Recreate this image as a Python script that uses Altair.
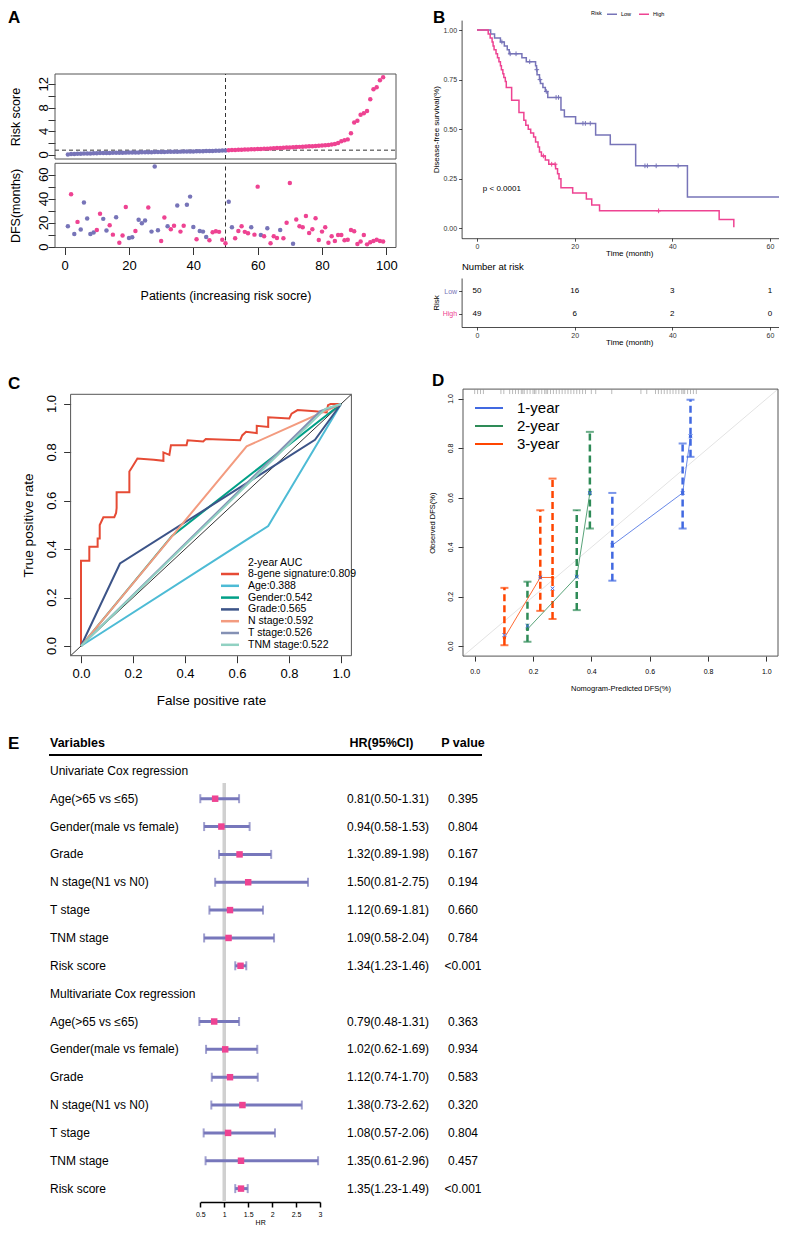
import altair as alt
import pandas as pd

W, H = 771, 1218
FONT = "Liberation Sans"
PURPLE = "#7774B8"
PINK = "#EE4392"
FRAME = "#555555"

# ---------------- Panel A data ----------------
patients = list(range(1, 100))
risk_score = [0.10, 0.15, 0.18, 0.20, 0.22, 0.24, 0.26, 0.27, 0.29, 0.30,
              0.32, 0.33, 0.34, 0.35, 0.36, 0.37, 0.38, 0.39, 0.40, 0.41,
              0.42, 0.43, 0.44, 0.45, 0.46, 0.47, 0.48, 0.49, 0.50, 0.51,
              0.52, 0.53, 0.54, 0.55, 0.56, 0.57, 0.58, 0.59, 0.60, 0.61,
              0.62, 0.63, 0.64, 0.66, 0.67, 0.69, 0.71, 0.73, 0.75, 0.78,
              0.82, 0.84, 0.86, 0.88, 0.90, 0.92, 0.94, 0.96, 0.98, 1.00,
              1.02, 1.05, 1.08, 1.11, 1.14, 1.17, 1.20, 1.23, 1.26, 1.29,
              1.32, 1.35, 1.38, 1.41, 1.44, 1.47, 1.50, 1.53, 1.57, 1.61,
              1.66, 1.71, 1.77, 1.85, 2.05, 2.35, 2.50, 2.65, 3.68, 5.50,
              5.80, 6.85, 7.07, 7.47, 9.45, 11.15, 11.50, 12.70, 13.20]
dfs_months = [17.3, 43.8, 10.9, 20.9, 14.5, 37.1, 23.7, 10.9, 12.0, 14.2,
              27.6, 23.4, 13.7, 18.1, 10.3, 24.8, 3.6, 9.5, 33.2, 7.5,
              8.1, 13.4, 22.6, 19.8, 22.0, 32.9, 12.8, 67.0, 14.0, 5.0,
              24.6, 17.3, 14.8, 17.6, 34.6, 12.8, 17.6, 35.2, 41.9, 16.7,
              6.4, 13.4, 12.8, 8.4, 5.6, 12.3, 13.1, 12.6, 6.1, 3.1,
              37.7, 16.5, 7.3, 13.4, 17.3, 12.6, 11.4, 16.5, 10.3, 50.2,
              10.0, 8.9, 15.6, 3.1, 8.9, 7.5, 14.2, 7.3, 20.1, 53.3,
              2.8, 22.9, 17.3, 16.5, 25.7, 11.7, 14.8, 24.0, 5.9, 12.8,
              16.5, 3.6, 8.9, 5.0, 10.0, 10.0, 5.6, 6.1, 14.2, 13.1,
              2.5, 4.5, 10.0, 2.2, 3.9, 5.0, 6.1, 5.0, 4.5]
dfs_event = [0, 1, 0, 1, 0, 0, 0, 0, 0, 1,
             1, 0, 0, 1, 1, 0, 1, 1, 1, 0,
             0, 1, 0, 0, 0, 1, 0, 0, 0, 1,
             1, 0, 1, 1, 0, 1, 1, 0, 0, 0,
             1, 0, 0, 0, 1, 1, 1, 1, 1, 1,
             0, 0, 1, 1, 1, 1, 1, 0, 1, 1,
             0, 1, 0, 1, 1, 1, 0, 1, 1, 1,
             0, 1, 1, 1, 1, 1, 1, 1, 1, 1,
             1, 1, 1, 1, 1, 1, 1, 1, 1, 1,
             1, 1, 1, 1, 1, 1, 1, 1, 1]
risk_cutoff = 0.82
n_low_risk = 50
a_x_ticks = [0, 20, 40, 60, 80, 100]
a_top_ticks = [0, 2, 4, 6, 8, 10, 12]
a_top_labels = [0, 4, 8, 12]
a_bot_ticks = [0, 10, 20, 30, 40, 50, 60]
a_bot_labels = [0, 20, 40, 60]

# ---------------- Panel B data ----------------
km_low_time = [0, 2.8, 3.6, 4.8, 5.6, 6.2, 6.6, 9.2, 10.1, 12.0, 12.2, 12.3, 12.8, 13.0,
               13.5, 14.0, 14.5, 17.2, 17.9, 20.2, 24.3, 27.3, 32.5, 43.1, 66.0]
km_low_surv = [1.0, 0.98, 0.96, 0.94, 0.92, 0.90, 0.88, 0.86, 0.84, 0.82, 0.80, 0.775, 0.75, 0.73,
               0.71, 0.69, 0.66, 0.596, 0.562, 0.529, 0.47, 0.4225, 0.315, 0.158, 0.158]
km_high_time = [0, 2.3, 2.7, 3.1, 3.3, 3.5, 3.9, 4.2, 4.5, 4.8, 5.0, 5.3, 5.5, 5.8, 6.0,
                7.1, 8.6, 9.6, 10.0, 10.5, 11.0, 11.6, 12.0, 12.5, 12.8, 13.2, 14.0, 14.7,
                16.1, 16.5, 16.8, 17.2, 19.6, 22.4, 23.5, 25.1, 49.6, 52.6]
km_high_surv = [1.0, 0.98, 0.96, 0.94, 0.92, 0.90, 0.88, 0.86, 0.84, 0.82, 0.80, 0.78, 0.76, 0.74, 0.71,
                0.646, 0.584, 0.545, 0.52, 0.50, 0.48, 0.46, 0.435, 0.41, 0.385, 0.365, 0.345, 0.323,
                0.30, 0.275, 0.25, 0.205, 0.178, 0.148, 0.118, 0.088, 0.044, 0.005]
cens_low_time = [5.1, 6.8, 8.0, 10.8, 12.25, 12.9, 14.2, 16.2, 16.7, 21.7, 22.2, 23.2, 34.4, 34.9, 36.7, 41.2]
cens_high_time = [13.6, 15.3, 16.0, 37.2]
risk_table_time = [0, 20, 40, 60]
at_risk_low = [50, 16, 3, 1]
at_risk_high = [49, 6, 2, 0]
pval_text = "p < 0.0001"
pval_at = (1.2, 0.2)

# ---------------- Panel C data ----------------
roc_names = ["8-gene signature", "Age", "Gender", "Grade", "N stage", "T stage", "TNM stage"]
roc_auc = ["0.809", "0.388", "0.542", "0.565", "0.592", "0.526", "0.522"]
roc_colors = ["#E64B35", "#4DBBD5", "#00A087", "#3C5488", "#F39B7F", "#8491B4", "#91D1C2"]
sig_fpr = [0, 0, 0.032, 0.032, 0.064, 0.064, 0.072, 0.072, 0.086, 0.128, 0.135, 0.137, 0.137, 0.186,
           0.186, 0.200, 0.217, 0.28, 0.317, 0.317, 0.34, 0.346, 0.406, 0.41, 0.47, 0.48, 0.612, 0.62,
           0.635, 0.676, 0.676, 0.72, 0.72, 0.801, 0.81, 0.833, 0.90, 0.945, 0.95, 0.96, 1.0]
sig_tpr = [0, 0.352, 0.352, 0.41, 0.41, 0.444, 0.444, 0.50, 0.532, 0.532, 0.55, 0.57, 0.635, 0.635,
           0.721, 0.745, 0.775, 0.77, 0.765, 0.80, 0.79, 0.83, 0.83, 0.85, 0.845, 0.855, 0.85, 0.87,
           0.885, 0.88, 0.91, 0.905, 0.945, 0.94, 0.96, 0.975, 0.97, 0.965, 0.995, 1.0, 1.0]
age_fpr, age_tpr = [0, 0.72, 1], [0, 0.496, 1]
gender_fpr, gender_tpr = [0, 0.35, 1], [0, 0.455, 1]
grade_fpr, grade_tpr = [0, 0.15, 0.90, 1], [0, 0.341, 0.852, 1]
nstage_fpr, nstage_tpr = [0, 0.637, 1], [0, 0.825, 1]
tstage_fpr, tstage_tpr = [0, 0.92, 1], [0, 0.97, 1]
tnm_fpr, tnm_tpr = [0, 0.94, 1], [0, 0.98, 1]
unit_ticks = [0, 0.2, 0.4, 0.6, 0.8, 1.0]

# ---------------- Panel D data ----------------
cal_years = ["1-year", "2-year", "3-year"]
cal_colors = ["#4169E1", "#2E8B57", "#FF4500"]
cal_year = ["1-year"] * 3 + ["2-year"] * 3 + ["3-year"] * 3
cal_pred = [0.472, 0.713, 0.740, 0.181, 0.350, 0.395, 0.102, 0.225, 0.267]
cal_obs = [0.409, 0.620, 0.849, 0.069, 0.281, 0.620, 0.034, 0.278, 0.278]
cal_lower = [0.265, 0.476, 0.766, 0.018, 0.146, 0.476, 0.004, 0.143, 0.110]
cal_upper = [0.620, 0.820, 0.997, 0.261, 0.550, 0.867, 0.236, 0.550, 0.678]
cal_xmark = [0.409, 0.620, 0.849, 0.082, 0.281, 0.620, 0.045, 0.278, 0.234]
rug_pred = [0.0, 0.01, 0.02, 0.03, 0.09, 0.10, 0.12, 0.13, 0.14, 0.15, 0.16, 0.165, 0.17, 0.18,
            0.19, 0.20, 0.205, 0.21, 0.22, 0.23, 0.24, 0.245, 0.25, 0.26, 0.27, 0.28, 0.29, 0.30,
            0.31, 0.32, 0.33, 0.34, 0.35, 0.36, 0.37, 0.38, 0.40, 0.415, 0.47, 0.57, 0.59, 0.62,
            0.63, 0.64, 0.65, 0.66, 0.67, 0.68, 0.69, 0.70, 0.71, 0.715, 0.72, 0.73, 0.74, 0.75, 0.76]

# ---------------- Panel E data ----------------
e_row_labels = ["Univariate Cox regression", "Age(>65 vs \u226465)", "Gender(male vs female)", "Grade",
                "N stage(N1 vs N0)", "T stage", "TNM stage", "Risk score",
                "Multivariate Cox regression", "Age(>65 vs \u226465)", "Gender(male vs female)", "Grade",
                "N stage(N1 vs N0)", "T stage", "TNM stage", "Risk score"]
e_var_rows = [2, 3, 4, 5, 6, 7, 8, 10, 11, 12, 13, 14, 15, 16]
hr_est = [0.81, 0.94, 1.32, 1.50, 1.12, 1.09, 1.34, 0.79, 1.02, 1.12, 1.38, 1.08, 1.35, 1.35]
hr_low = [0.50, 0.58, 0.89, 0.81, 0.69, 0.58, 1.23, 0.48, 0.62, 0.74, 0.73, 0.57, 0.61, 1.23]
hr_high = [1.31, 1.53, 1.98, 2.75, 1.81, 2.04, 1.46, 1.31, 1.69, 1.70, 2.62, 2.06, 2.96, 1.49]
p_values = ["0.395", "0.804", "0.167", "0.194", "0.660", "0.784", "<0.001",
            "0.363", "0.934", "0.583", "0.320", "0.804", "0.457", "<0.001"]
hr_ticks = [0.5, 1, 1.5, 2, 2.5, 3]


# ================= helpers =================
def sc(dom, rng, **kw):
    return alt.Scale(domain=dom, range=rng, nice=False, zero=False, **kw)


def r_xaxis(ypx, values, lsize, title, tsize, fmt=None, tick=7, lpad=4, tpad=10):
    kw = dict(orient="bottom", offset=ypx - H, values=values, domain=False, ticks=True,
              tickSize=tick, tickColor="#333", tickWidth=1, labelFontSize=lsize, labelColor="black",
              labelPadding=lpad, labelFont=FONT, labelFlush=False, labelOverlap=False,
              labelBound=False, grid=False, title=title, titleFontSize=tsize,
              titleFontWeight="normal", titleFont=FONT, titleColor="black", titlePadding=tpad)
    if fmt:
        kw["format"] = fmt
    return alt.Axis(**kw)


def r_yaxis(xpx, values, title, tsize, tick=7, tpad=10):
    # labels are drawn separately (rotated, R style)
    return alt.Axis(orient="left", offset=-xpx, values=values, domain=False, ticks=True,
                    tickSize=tick, tickColor="#333", tickWidth=1, labels=False, grid=False,
                    title=title, titleFontSize=tsize, titleFontWeight="normal", titleFont=FONT,
                    titleColor="black", titlePadding=tpad)


def frame(xdom, ydom, X, Y):
    d = pd.DataFrame({"x0": [xdom[0]], "x1": [xdom[1]], "y0": [ydom[0]], "y1": [ydom[1]]})
    return alt.Chart(d).mark_rect(fillOpacity=0, stroke=FRAME, strokeWidth=1).encode(
        x=X("x0"), x2="x1", y=Y("y0"), y2="y1")


def rot_labels(values, fmt, xpx, Y, size):
    d = pd.DataFrame({"v": values, "lab": [fmt(v) for v in values]})
    return alt.Chart(d).mark_text(angle=270, align="center", baseline="alphabetic", fontSize=size,
                                  font=FONT, color="black").encode(
        x=alt.value(xpx), y=Y("v"), text="lab:N")


def label(txt, x, y, size=17, weight="bold", font=FONT, align="left", baseline="top", color="black"):
    return alt.Chart(pd.DataFrame({"t": [txt]})).mark_text(
        align=align, baseline=baseline, fontSize=size, fontWeight=weight, font=font, color=color
    ).encode(x=alt.value(x), y=alt.value(y), text="t:N")


def enc_x(scale, axis):
    return lambda f: alt.X(f + ":Q", scale=scale, axis=axis)


def enc_y(scale, axis):
    return lambda f: alt.Y(f + ":Q", scale=scale, axis=axis)


# ================= Panel A =================
XA, YA1, YA2 = [-3, 103], [-0.68, 13.75], [-0.4, 69.6]
XAt = enc_x(sc(XA, [47, 388]), None)
YAt = enc_y(sc(YA1, [151, 66]), r_yaxis(47, a_top_ticks, "Risk score", 12.5, tpad=25))
XAb = enc_x(sc(XA, [47, 388]),
            r_xaxis(239.5, a_x_ticks, 13, "Patients (increasing risk socre)", 12.5, lpad=5, tpad=17))
YAb = enc_y(sc(YA2, [239.5, 155.3]), r_yaxis(47, a_bot_ticks, "DFS(months)", 12.5, tpad=25))

dfA = pd.DataFrame({
    "patient": patients, "risk": risk_score, "dfs": dfs_months,
    "group": ["low" if p <= n_low_risk else "high" for p in patients],
    "status": ["event" if e == 1 else "censored" for e in dfs_event],
})

a_top = alt.layer(
    frame(XA, YA1, XAt, YAt),
    alt.Chart(pd.DataFrame({"x0": [XA[0]], "x1": [XA[1]], "y": [risk_cutoff]})).mark_rule(
        strokeDash=[4, 3], color="#333", strokeWidth=1).encode(x=XAt("x0"), x2="x1", y=YAt("y")),
    alt.Chart(pd.DataFrame({"x": [n_low_risk], "y0": [YA1[0]], "y1": [YA1[1]]})).mark_rule(
        strokeDash=[4, 3], color="#333", strokeWidth=1).encode(x=XAt("x"), y=YAt("y0"), y2="y1"),
    alt.Chart(dfA).mark_circle(size=20, opacity=1).encode(
        x=XAt("patient"), y=YAt("risk"),
        color=alt.Color("group:N", scale=alt.Scale(domain=["low", "high"], range=[PURPLE, PINK]), legend=None)),
    rot_labels(a_top_labels, str, 39.5, YAt, 13),
)

a_bot = alt.layer(
    frame(XA, YA2, XAb, YAb),
    alt.Chart(pd.DataFrame({"x": [n_low_risk], "y0": [YA2[0]], "y1": [YA2[1]]})).mark_rule(
        strokeDash=[4, 3], color="#333", strokeWidth=1).encode(x=XAb("x"), y=YAb("y0"), y2="y1"),
    alt.Chart(dfA).mark_circle(size=20, opacity=1).encode(
        x=XAb("patient"), y=YAb("dfs"),
        color=alt.Color("status:N", scale=alt.Scale(domain=["censored", "event"], range=[PURPLE, PINK]),
                        legend=None)),
    rot_labels(a_bot_labels, str, 39.5, YAb, 13),
)

# ================= Panel B =================
XB, YB = [-3.15, 65.5], [-0.05, 1.05]
colB = alt.Scale(domain=["Low", "High"], range=[PURPLE, PINK])


def b_axis_x(ypx):
    return alt.Axis(orient="bottom", offset=ypx - H, values=risk_table_time, domain=True,
                    domainColor="black", domainWidth=0.7, tickColor="black", tickSize=3, tickWidth=0.7,
                    labelFontSize=7, labelColor="#333", labelPadding=1, labelFlush=False,
                    labelOverlap=False, grid=False, title="Time (month)", titleFontSize=8,
                    titleFontWeight="normal", titlePadding=0, titleColor="black", labelFont=FONT,
                    titleFont=FONT)


b_yaxis = alt.Axis(orient="left", offset=-453.6, values=[0, 0.25, 0.5, 0.75, 1.0], format=".2f",
                   domain=True, domainColor="black", domainWidth=0.7, tickColor="black", tickSize=3,
                   tickWidth=0.7, labelFontSize=7, labelColor="#333", labelPadding=2, labelFlush=False,
                   labelOverlap=False, grid=False, title="Disease-free survival(%)", titleFontSize=8,
                   titleFontWeight="normal", titlePadding=2, titleColor="black", labelFont=FONT,
                   titleFont=FONT)
XBk = enc_x(sc(XB, [453.6, 788.8]), b_axis_x(230.2))
YBk = enc_y(sc(YB, [230.2, 12.1]), b_yaxis)
b_legend = alt.Legend(orient="none", legendX=583, legendY=0, direction="horizontal", title="Risk",
                      titleOrient="left", titleFontSize=5.5, titleFontWeight="normal", labelFontSize=5.5,
                      symbolType="stroke", symbolSize=100, symbolStrokeWidth=1.5, columnPadding=4,
                      labelOffset=3, titlePadding=4, padding=0, labelFont=FONT, titleFont=FONT)
b_color = alt.Color("risk:N", scale=colB, legend=b_legend)


def step_value(times, survs, t):
    v = survs[0]
    for tt, s in zip(times, survs):
        if tt <= t:
            v = s
    return v


km_df = pd.concat([
    pd.DataFrame({"time": km_low_time, "surv": km_low_surv, "risk": "Low"}),
    pd.DataFrame({"time": km_high_time, "surv": km_high_surv, "risk": "High"}),
])
cens_df = pd.concat([
    pd.DataFrame({"time": cens_low_time,
                  "surv": [step_value(km_low_time, km_low_surv, t) for t in cens_low_time], "risk": "Low"}),
    pd.DataFrame({"time": cens_high_time,
                  "surv": [step_value(km_high_time, km_high_surv, t) for t in cens_high_time], "risk": "High"}),
])

b_km = alt.layer(
    alt.Chart(km_df).mark_line(interpolate="step-after", strokeWidth=1.5).encode(
        x=XBk("time"), y=YBk("surv"), color=b_color, detail="risk:N"),
    alt.Chart(cens_df).mark_point(shape="M-1,0L1,0M0,-1L0,1", size=22, filled=False, strokeWidth=1,
                                  opacity=1).encode(x=XBk("time"), y=YBk("surv"), color=b_color),
    alt.Chart(pd.DataFrame({"t": [pval_at[0]], "s": [pval_at[1]], "lab": [pval_text]})).mark_text(
        align="left", baseline="middle", fontSize=8, font=FONT, color="black").encode(
        x=XBk("t"), y=YBk("s"), text="lab:N"),
)

tab_df = pd.concat([
    pd.DataFrame({"time": risk_table_time, "n": at_risk_low, "risk": "Low"}),
    pd.DataFrame({"time": risk_table_time, "n": at_risk_high, "risk": "High"}),
])
b_tab = alt.layer(
    alt.Chart(tab_df).mark_text(fontSize=8, font=FONT, color="black", baseline="middle").encode(
        x=alt.X("time:Q", scale=sc(XB, [453.6, 788.8]), axis=b_axis_x(319)),
        y=alt.Y("risk:N", scale=alt.Scale(type="point", domain=["Low", "High"], range=[270, 319],
                                          padding=0.6),
                axis=alt.Axis(
            orient="left", offset=-453.6, domain=True, domainColor="black", domainWidth=0.7,
            tickColor="black", tickSize=3, tickWidth=0.7, labelFontSize=7, labelPadding=2,
            labelColor={"condition": {"test": "datum.value === 'Low'", "value": PURPLE}, "value": PINK},
            grid=False, title="Risk", titleFontSize=8, titleFontWeight="normal", titlePadding=2,
            titleColor="black", labelFont=FONT, titleFont=FONT)),
        text="n:Q"),
    label("Number at risk", 454, 259, size=9.5, weight="normal", baseline="middle"),
)

# ================= Panel C =================
XC = YC = [-0.04, 1.04]
XCc = enc_x(sc(XC, [62.6, 343.4]),
            r_xaxis(647.7, unit_ticks, 13, "False positive rate", 13.5, fmt=".1f", lpad=5, tpad=13))
YCc = enc_y(sc(YC, [647.7, 386.3]), r_yaxis(62.6, unit_ticks, "True positive rate", 13.5, tpad=28))
roc_fprs = [sig_fpr, age_fpr, gender_fpr, grade_fpr, nstage_fpr, tstage_fpr, tnm_fpr]
roc_tprs = [sig_tpr, age_tpr, gender_tpr, grade_tpr, nstage_tpr, tstage_tpr, tnm_tpr]
roc_labels = [f"{n}:{a}" for n, a in zip(roc_names, roc_auc)]
roc_df = pd.concat([
    pd.DataFrame({"fpr": f, "tpr": t, "model": lab, "idx": list(range(len(f)))})
    for f, t, lab in zip(roc_fprs, roc_tprs, roc_labels)
])
roc_color = alt.Color("model:N", scale=alt.Scale(domain=roc_labels, range=roc_colors), legend=None)
c_panel = alt.layer(
    alt.Chart(pd.DataFrame({"a": [XC[0]], "b": [XC[1]]})).mark_rule(color="black", strokeWidth=0.8).encode(
        x=XCc("a"), y=YCc("a"), x2="b", y2="b"),
    frame(XC, YC, XCc, YCc),
    alt.Chart(roc_df).mark_line(strokeWidth=2).encode(
        x=XCc("fpr"), y=YCc("tpr"), color=roc_color, order="idx:Q"),
    rot_labels(unit_ticks, lambda v: f"{v:.1f}", 48, YCc, 13),
)

# legend of panel C (guide drawn as marks)
leg_c_df = pd.DataFrame({"i": list(range(len(roc_labels))), "model": roc_labels})
leg_c_y = alt.Y("i:Q", scale=sc([0, 6], [566, 636.8]), axis=None)
c_legend = alt.layer(
    alt.Chart(leg_c_df).mark_rule(strokeWidth=2.5).encode(
        x=alt.value(213), x2=alt.value(231), y=leg_c_y, color=roc_color),
    alt.Chart(leg_c_df).mark_text(align="left", baseline="middle", fontSize=10.5, font=FONT,
                                  color="black").encode(x=alt.value(240), y=leg_c_y, text="model:N"),
    label("2-year AUC", 240, 554.5, size=10.5, weight="normal", baseline="middle"),
)

# ================= Panel D =================
XD = YD = [-0.04, 1.04]
XDd = enc_x(sc(XD, [455, 770]),
            r_xaxis(648.1, unit_ticks, 7, "Nomogram-Predicted DFS(%)", 7.5, fmt=".1f", tick=5, lpad=6,
                    tpad=10))
YDd = enc_y(sc(YD, [648.1, 381.1]), r_yaxis(455, unit_ticks, "Observed DFS(%)", 7.5, tick=5, tpad=21))
d_color = alt.Color("year:N", scale=alt.Scale(domain=cal_years, range=cal_colors), legend=None)
cal_df = pd.DataFrame({"year": cal_year, "pred": cal_pred, "obs": cal_obs, "lo": cal_lower,
                       "hi": cal_upper, "xm": cal_xmark})
rug_df = pd.DataFrame({"p": rug_pred, "y0": YD[1], "y1": YD[1] - 0.02})
d_panel = alt.layer(
    alt.Chart(pd.DataFrame({"a": [XD[0]], "b": [XD[1]]})).mark_rule(color="#e3e3e3", strokeWidth=1).encode(
        x=XDd("a"), y=YDd("a"), x2="b", y2="b"),
    frame(XD, YD, XDd, YDd),
    alt.Chart(rug_df).mark_rule(color="#8c8c8c", strokeWidth=0.6).encode(
        x=XDd("p"), y=YDd("y0"), y2="y1"),
    alt.Chart(cal_df).mark_rule(strokeDash=[7, 4], strokeWidth=2.5).encode(
        x=XDd("pred"), y=YDd("lo"), y2="hi", color=d_color),
    alt.Chart(cal_df).mark_tick(orient="horizontal", size=8, thickness=2).encode(
        x=XDd("pred"), y=YDd("lo"), color=d_color),
    alt.Chart(cal_df).mark_tick(orient="horizontal", size=8, thickness=2).encode(
        x=XDd("pred"), y=YDd("hi"), color=d_color),
    alt.Chart(cal_df).mark_line(strokeWidth=0.8).encode(
        x=XDd("pred"), y=YDd("obs"), color=d_color, order="pred:Q"),
    alt.Chart(cal_df).mark_circle(size=12, opacity=1).encode(
        x=XDd("pred"), y=YDd("obs"), color=d_color),
    alt.Chart(cal_df).mark_point(shape="M-1,-1L1,1M-1,1L1,-1", size=14, filled=False, strokeWidth=1,
                                 color="#4169E1", opacity=1).encode(x=XDd("pred"), y=YDd("xm")),
    rot_labels(unit_ticks, lambda v: f"{v:.1f}", 444.5, YDd, 7),
)

leg_d_df = pd.DataFrame({"i": list(range(len(cal_years))), "year": cal_years})
leg_d_y = alt.Y("i:Q", scale=sc([0, 2], [400, 436]), axis=None)
d_legend = alt.layer(
    alt.Chart(leg_d_df).mark_rule(strokeWidth=2).encode(
        x=alt.value(467), x2=alt.value(495), y=leg_d_y, color=d_color),
    alt.Chart(leg_d_df).mark_text(align="left", baseline="middle", fontSize=15, font=FONT,
                                  color="black").encode(x=alt.value(509), y=leg_d_y, text="year:N"),
)

# ================= Panel E =================
e_xaxis = alt.Axis(orient="bottom", offset=1194 - H, values=hr_ticks, format="~g", domain=True,
                   domainColor="black", domainWidth=1.5, tickColor="black", tickWidth=1.5, tickSize=5,
                   labelFontSize=7, labelColor="black", labelPadding=3, labelFlush=False,
                   labelOverlap=False, grid=False, title="HR", titleFontSize=7,
                   titleFontWeight="normal", titlePadding=1, titleColor="black", labelFont=FONT,
                   titleFont=FONT)
XE = enc_x(sc([0.5, 3], [192.3, 312]), e_xaxis)
YE = enc_y(sc([0, 16], [735, 1180.6]), None)
lab_df = pd.DataFrame({"row": list(range(1, 17)), "lab": e_row_labels})
var_df = pd.DataFrame({
    "row": e_var_rows, "hr": hr_est, "lo": hr_low, "hi": hr_high, "p": p_values,
    "txt": [f"{h:.2f}({l:.2f}-{u:.2f})" for h, l, u in zip(hr_est, hr_low, hr_high)],
})
BAR = "#7777BB"
ETXT = 12
e_panel = alt.layer(
    label("Variables", 42, 735, size=12.5, baseline="middle"),
    label("HR(95%CI)", 373.5, 735, size=12.5, align="center", baseline="middle"),
    label("P value", 455, 735, size=12.5, align="center", baseline="middle"),
    alt.Chart(pd.DataFrame({"a": [0]})).mark_rule(color="black", strokeWidth=2).encode(
        x=alt.value(41), x2=alt.value(474), y=alt.value(747)),
    alt.Chart(pd.DataFrame({"hr": [1.0]})).mark_rule(color="#d0d0d0", strokeWidth=3.5).encode(
        x=XE("hr"), y=alt.value(775), y2=alt.value(1194)),
    alt.Chart(lab_df).mark_text(align="left", baseline="middle", fontSize=ETXT, font=FONT,
                                color="black").encode(x=alt.value(42), y=YE("row"), text="lab:N"),
    alt.Chart(var_df).mark_rule(color=BAR, strokeWidth=3).encode(x=XE("lo"), x2="hi", y=YE("row")),
    alt.Chart(var_df).mark_tick(orient="vertical", size=9, thickness=2, color=BAR).encode(
        x=XE("lo"), y=YE("row")),
    alt.Chart(var_df).mark_tick(orient="vertical", size=9, thickness=2, color=BAR).encode(
        x=XE("hi"), y=YE("row")),
    alt.Chart(var_df).mark_square(size=42, color=PINK, opacity=1).encode(x=XE("hr"), y=YE("row")),
    alt.Chart(var_df).mark_text(align="left", baseline="middle", fontSize=ETXT, font=FONT,
                                color="black").encode(x=alt.value(339), y=YE("row"), text="txt:N"),
    alt.Chart(var_df).mark_text(align="center", baseline="middle", fontSize=ETXT, font=FONT,
                                color="black").encode(x=alt.value(455), y=YE("row"), text="p:N"),
)

letters = [label("A", 0, 10, baseline="middle"), label("B", 425, 10, baseline="middle"),
           label("C", 0, 376, baseline="middle"), label("D", 424, 373, baseline="middle"),
           label("E", 0, 736, baseline="middle")]

chart = alt.layer(a_top, a_bot, b_km, b_tab, c_panel, c_legend, d_panel, d_legend, e_panel,
                  *letters).resolve_scale(
    x="independent", y="independent", color="independent"
).properties(
    width=W, height=H, padding=0, autosize=alt.AutoSizeParams(type="none")
).configure(font=FONT, view=alt.ViewConfig(stroke=None))

chart.save("out.html", embed_options={"renderer": "svg", "actions": False})
